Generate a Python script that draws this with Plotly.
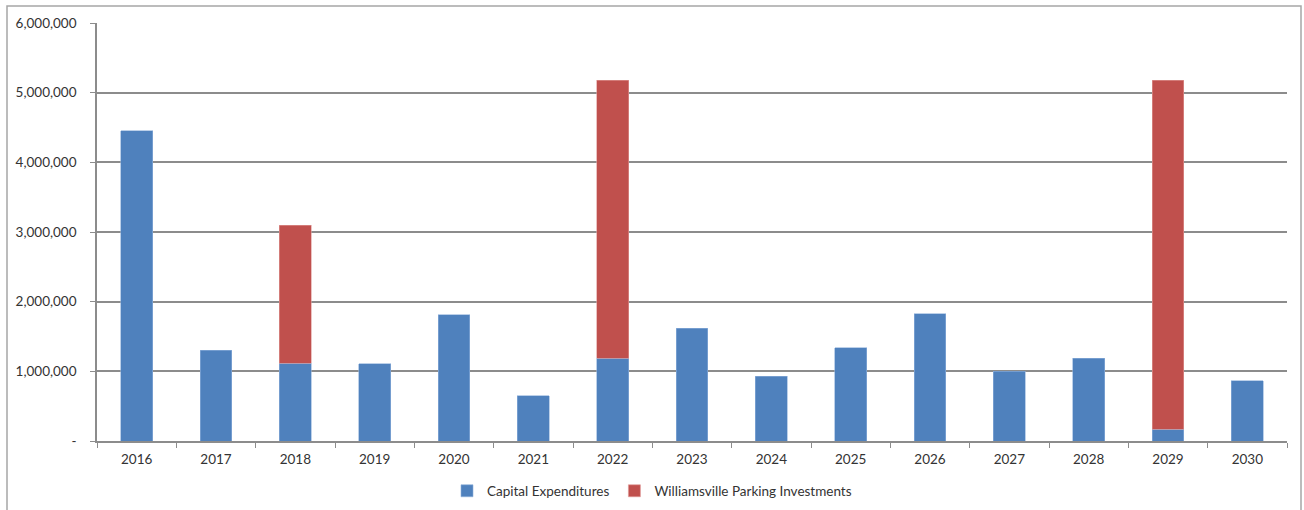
import plotly.graph_objects as go

years = ["2016", "2017", "2018", "2019", "2020", "2021", "2022", "2023",
         "2024", "2025", "2026", "2027", "2028", "2029", "2030"]
capital_expenditures = [4450000, 1300000, 1115000, 1110000, 1810000, 650000,
                        1190000, 1620000, 930000, 1340000, 1830000, 1000000,
                        1190000, 170000, 865000]
parking_investments = [0, 0, 1985000, 0, 0, 0, 3985000, 0,
                       0, 0, 0, 0, 0, 5005000, 0]
y_tick_values = [0, 1000000, 2000000, 3000000, 4000000, 5000000, 6000000]
y_tick_labels = ["-", "1,000,000", "2,000,000", "3,000,000", "4,000,000",
                 "5,000,000", "6,000,000"]

BLUE = "#4F81BD"
RED = "#C0504D"
GRID = "#8C8C8C"
TEXT = "#333333"
FONT = "Lato, Carlito, Calibri, sans-serif"
FSIZE = 13.5

fig = go.Figure()
fig.add_trace(go.Bar(
    x=years, y=capital_expenditures, name="Capital Expenditures",
    marker=dict(color=BLUE, line=dict(color="#8FB0DA", width=0.6)),
))
fig.add_trace(go.Bar(
    x=years, y=[v if v else None for v in parking_investments],
    name="Williamsville Parking Investments",
    marker=dict(color=RED, line=dict(color="#E09A98", width=0.6)),
))

# Plot area: 97..1287 px horizontally, 23..441 px vertically
L, R, T, B = 97, 17, 23, 69
W, H = 1304, 510
pw = W - L - R
ph = H - T - B

def px_x(x):
    return (x - L) / pw

def px_y(y):
    return (H - B - y) / ph

fig.update_layout(
    width=W, height=H,
    margin=dict(l=L, r=R, t=T, b=B, autoexpand=False),
    barmode="stack",
    bargap=0.6,
    paper_bgcolor="white",
    plot_bgcolor="white",
    font=dict(family=FONT, size=FSIZE, color=TEXT),
    showlegend=True,
    legend=dict(
        orientation="h", x=0.5, xanchor="center", xref="container",
        y=(H - 491) / H, yanchor="middle", yref="container",
        font=dict(family=FONT, size=FSIZE, color=TEXT),
        itemwidth=30, traceorder="normal",
    ),
    xaxis=dict(
        type="category",
        showgrid=False,
        showline=True, linecolor=GRID, linewidth=1.5,
        ticks="outside", tickson="boundaries", ticklen=5,
        tickcolor=GRID, tickwidth=1,
        tickfont=dict(family=FONT, size=FSIZE, color=TEXT),
        ticklabelstandoff=5,
        automargin=False,
        fixedrange=True,
    ),
    yaxis=dict(
        range=[0, 6000000],
        tickvals=y_tick_values, ticktext=y_tick_labels,
        showgrid=True, gridcolor=GRID, gridwidth=1.5,
        showline=True, linecolor=GRID, linewidth=1.5,
        ticks="outside", ticklen=5, tickcolor=GRID, tickwidth=1,
        tickfont=dict(family=FONT, size=FSIZE, color=TEXT),
        ticklabelstandoff=11,
        zeroline=False,
        automargin=False,
        fixedrange=True,
    ),
    shapes=[dict(
        type="rect", xref="paper", yref="paper",
        x0=px_x(7), x1=px_x(1301), y0=px_y(520), y1=px_y(6),
        line=dict(color="#A6A6A6", width=1.5), fillcolor="rgba(0,0,0,0)",
        layer="below",
    )],
)

fig.write_html("out.html")
